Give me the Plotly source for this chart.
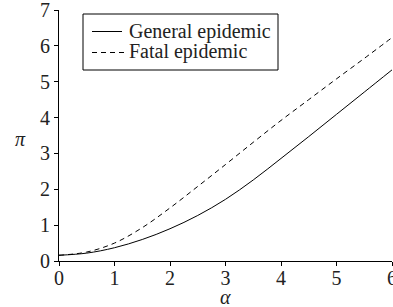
import plotly.graph_objects as go

alpha = [0, 0.5, 1, 1.5, 2, 2.5, 3, 3.5, 4, 4.5, 5, 5.5, 6]
general = [0.16, 0.22, 0.37, 0.60, 0.90, 1.27, 1.72, 2.26, 2.86, 3.47, 4.09, 4.71, 5.33]
fatal = [0.16, 0.25, 0.50, 0.93, 1.48, 2.08, 2.69, 3.31, 3.92, 4.50, 5.08, 5.65, 6.23]
series_names = ["General epidemic", "Fatal epidemic"]
xticks = [0, 1, 2, 3, 4, 5, 6]
yticks = [0, 1, 2, 3, 4, 5, 6, 7]

FONT = "Liberation Serif"
TXT = "#222"
DASH = "5px,4px"

fig = go.Figure()
fig.add_trace(go.Scatter(x=alpha, y=general, mode="lines", name=series_names[0],
                         line=dict(color="black", width=1, shape="spline")))
fig.add_trace(go.Scatter(x=alpha, y=fatal, mode="lines", name=series_names[1],
                         line=dict(color="black", width=1, dash=DASH, shape="spline")))

W, H = 393, 307
L, T = 59, 10
R = W - 392
B = H - 261
pw, ph = W - L - R, H - T - B


def px(xp):
    return (xp - L) / pw


def py(yp):
    return (H - B - yp) / ph


# legend drawn as a framed key (box, sample lines, labels)
shapes = [
    dict(type="rect", xref="paper", yref="paper", x0=px(83), x1=px(278), y0=py(70), y1=py(14),
         line=dict(color="black", width=1), fillcolor="white", layer="above"),
    dict(type="line", xref="paper", yref="paper", x0=px(92), x1=px(122), y0=py(31.5), y1=py(31.5),
         line=dict(color="black", width=1), layer="above"),
    dict(type="line", xref="paper", yref="paper", x0=px(92), x1=px(124), y0=py(52.5), y1=py(52.5),
         line=dict(color="black", width=1, dash=DASH), layer="above"),
]

annotations = [
    dict(text="<i>π</i>", x=px(20), y=py(139), xref="paper", yref="paper",
         xanchor="center", yanchor="middle",
         showarrow=False, font=dict(family=FONT, size=20, color=TXT)),
    dict(text="<i>α</i>", x=px(225), y=py(297), xref="paper", yref="paper",
         xanchor="center", yanchor="middle",
         showarrow=False, font=dict(family=FONT, size=20, color=TXT)),
    dict(text=series_names[0], x=px(127), y=py(31), xref="paper", yref="paper",
         xanchor="left", yanchor="middle", showarrow=False,
         font=dict(family=FONT, size=20, color=TXT)),
    dict(text=series_names[1], x=px(127), y=py(52), xref="paper", yref="paper",
         xanchor="left", yanchor="middle", showarrow=False,
         font=dict(family=FONT, size=20, color=TXT)),
]

fig.update_layout(
    width=W, height=H,
    margin=dict(l=L, r=R, t=T, b=B, autoexpand=False),
    paper_bgcolor="white", plot_bgcolor="white",
    font=dict(family=FONT, size=20, color=TXT),
    showlegend=False,
    xaxis=dict(range=[0, 6], tickvals=xticks, showline=True, linecolor="black", linewidth=1,
               ticks="outside", ticklen=4, tickcolor="black", showgrid=False, zeroline=False,
               automargin=False, ticklabeloverflow="allow", ticklabelstandoff=-5,
               tickfont=dict(family=FONT, size=20, color=TXT)),
    yaxis=dict(range=[0, 7], tickvals=yticks, showline=True, linecolor="black", linewidth=1,
               ticks="outside", ticklen=4, tickcolor="black", showgrid=False, zeroline=False,
               automargin=False, ticklabeloverflow="allow",
               tickfont=dict(family=FONT, size=20, color=TXT)),
    shapes=shapes,
    annotations=annotations,
)

fig.write_html(
    "out.html",
    config={"displayModeBar": False},
    post_script="document.body.style.margin='0';document.body.style.overflow='hidden';",
)
